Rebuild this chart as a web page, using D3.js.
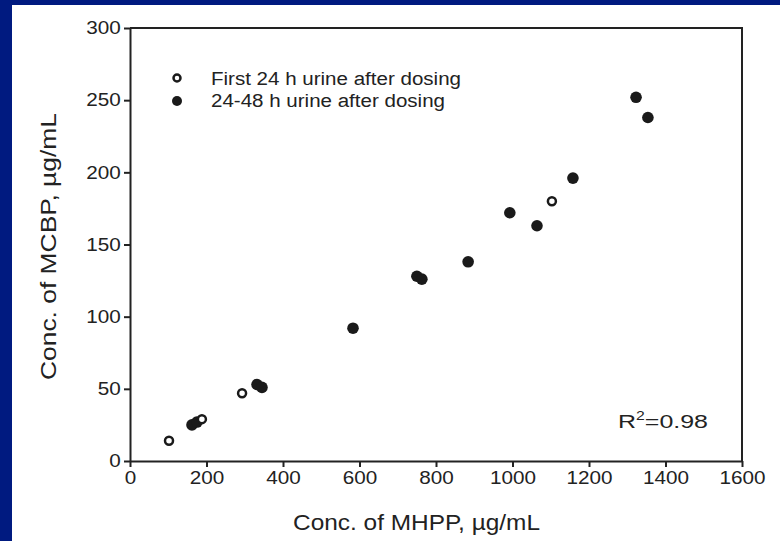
<!DOCTYPE html>
<html>
<head>
<meta charset="utf-8">
<script src="https://cdn.jsdelivr.net/npm/d3@7"></script>
<style>
  html, body { margin: 0; padding: 0; background: #001a80; }
  svg { display: block; }
  text { font-family: "Liberation Sans", Arial, sans-serif; fill: #222; }
</style>
</head>
<body>
<svg width="780" height="541"></svg>
<script>
// values: MHPP (x) vs MCBP (y), ug/mL
var firstX = [102, 188, 293, 1103];
var firstY = [14, 29, 47, 180];
var laterX = [162, 175, 332, 345, 583, 750, 763, 884, 993, 1064, 1158, 1323, 1354];
var laterY = [25, 27, 53, 51, 92, 128, 126, 138, 172, 163, 196, 252, 238];
var xTicks = [0, 200, 400, 600, 800, 1000, 1200, 1400, 1600];
var yTicks = [0, 50, 100, 150, 200, 250, 300];
var legendLabels = ["First 24 h urine after dosing", "24-48 h urine after dosing"];

var svg = d3.select('svg');

svg.append("rect")
    .attr("x", 12).attr("y", 5)
    .attr("width", 768).attr("height", 536)
    .attr("fill", "#fff");

var x = d3.scaleLinear().domain([0, 1600]).range([130, 742]);
var y = d3.scaleLinear().domain([0, 300]).range([461, 28]);

// box top + right
svg.append("path")
    .attr("d", "M" + x(0) + "," + y(300) + "H" + x(1600) + "V" + y(0))
    .attr("fill", "none")
    .attr("stroke", "#222")
    .attr("stroke-width", 2);

var xAxis = svg.append("g")
    .attr("transform", "translate(0," + y(0) + ")")
    .call(d3.axisBottom(x).tickValues(xTicks).tickFormat(d3.format("d"))
        .tickSize(6).tickPadding(4).tickSizeOuter(0));

var yAxis = svg.append("g")
    .attr("transform", "translate(" + x(0) + ",0)")
    .call(d3.axisLeft(y).tickValues(yTicks).tickFormat(d3.format("d"))
        .tickSize(6).tickPadding(3).tickSizeOuter(0));

[xAxis, yAxis].forEach(function(a) {
    a.select(".domain").attr("stroke", "#222").attr("stroke-width", 2);
    a.selectAll(".tick line").attr("stroke", "#222").attr("stroke-width", 2);
    a.selectAll(".tick text")
        .style("font-family", "Liberation Sans, Arial, sans-serif")
        .style("font-size", "18px")
        .attr("fill", "#222");
});
// the slide's text is stretched sideways
xAxis.selectAll(".tick text").attr("transform", "scale(1.15,1)");
yAxis.selectAll(".tick text").attr("x", -8).attr("transform", "scale(1.15,1)");

// points
svg.selectAll(".later")
    .data(laterX)
    .enter().append("circle")
    .attr("class", "later")
    .attr("cx", function(d) { return x(d); })
    .attr("cy", function(d, i) { return y(laterY[i]); })
    .attr("r", 5.8)
    .attr("fill", "#1a1a1a");

svg.selectAll(".first")
    .data(firstX)
    .enter().append("circle")
    .attr("class", "first")
    .attr("cx", function(d) { return x(d); })
    .attr("cy", function(d, i) { return y(firstY[i]); })
    .attr("r", 4)
    .attr("fill", "#fff")
    .attr("stroke", "#1a1a1a")
    .attr("stroke-width", 2.5);

// legend
var leg = svg.append("g");
leg.append("circle").attr("cx", 177).attr("cy", 78).attr("r", 3.5)
    .attr("fill", "#fff").attr("stroke", "#1a1a1a").attr("stroke-width", 2.5);
leg.append("circle").attr("cx", 177).attr("cy", 101).attr("r", 5).attr("fill", "#1a1a1a");
leg.selectAll("text")
    .data(legendLabels)
    .enter().append("text")
    .attr("x", 211)
    .attr("y", function(d, i) { return 85 + i * 22; })
    .attr("textLength", function(d, i) { return i === 0 ? 250 : 234; })
    .attr("lengthAdjust", "spacingAndGlyphs")
    .style("font-size", "18px")
    .text(function(d) { return d; });

// R^2
var r2 = svg.append("text")
    .attr("x", 618).attr("y", 428)
    .attr("textLength", 90)
    .attr("lengthAdjust", "spacingAndGlyphs")
    .style("font-size", "19px");
r2.append("tspan").text("R");
r2.append("tspan").attr("dy", -8).style("font-size", "12px").text("2");
r2.append("tspan").attr("dy", 8).text("=0.98");

// axis titles
svg.append("text")
    .attr("x", 293).attr("y", 530)
    .attr("textLength", 247)
    .attr("lengthAdjust", "spacingAndGlyphs")
    .style("font-size", "22px")
    .text("Conc. of MHPP,  µg/mL");

svg.append("text")
    .attr("transform", "translate(56,380) rotate(-90)")
    .attr("textLength", 267)
    .attr("lengthAdjust", "spacingAndGlyphs")
    .style("font-size", "22px")
    .text("Conc. of MCBP, µg/mL");
</script>
</body>
</html>
